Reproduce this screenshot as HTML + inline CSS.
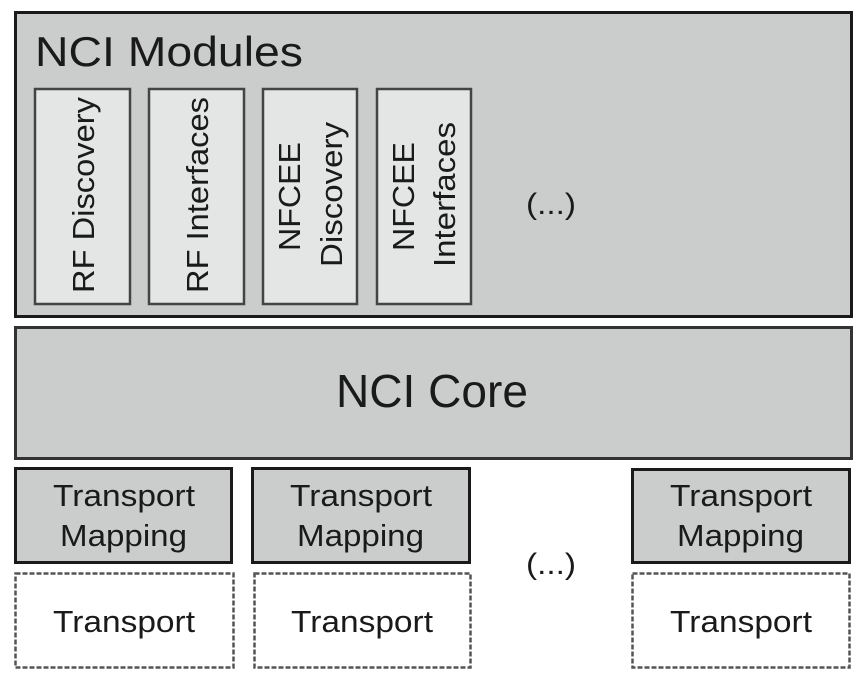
<!DOCTYPE html>
<html><head><style>
html,body{margin:0;padding:0;background:#fff;}
svg{display:block;}
text{font-family:"Liberation Sans",sans-serif;fill:#1a1a1a;}
</style></head><body>
<svg width="857" height="682" viewBox="0 0 857 682" xmlns="http://www.w3.org/2000/svg">
<rect x="15.5" y="12.5" width="836" height="304" fill="#cbcccc" stroke="#1a1a1a" stroke-width="3"/>
<text x="35" y="66" font-size="42" textLength="268" lengthAdjust="spacingAndGlyphs">NCI Modules</text>
<g fill="#e4e5e5" stroke="#444" stroke-width="2.5">
<rect x="35" y="89" width="95" height="215"/>
<rect x="149" y="89" width="95" height="215"/>
<rect x="263" y="89" width="94" height="215"/>
<rect x="377" y="89" width="94" height="215"/>
</g>
<g font-size="31">
<text transform="translate(94,293) rotate(-90)" textLength="196" lengthAdjust="spacingAndGlyphs">RF Discovery</text>
<text transform="translate(208,293) rotate(-90)" textLength="196" lengthAdjust="spacingAndGlyphs">RF Interfaces</text>
<text transform="translate(300,251) rotate(-90)" textLength="109" lengthAdjust="spacingAndGlyphs">NFCEE</text>
<text transform="translate(342,267) rotate(-90)" textLength="145" lengthAdjust="spacingAndGlyphs">Discovery</text>
<text transform="translate(414,251) rotate(-90)" textLength="109" lengthAdjust="spacingAndGlyphs">NFCEE</text>
<text transform="translate(455,267) rotate(-90)" textLength="145" lengthAdjust="spacingAndGlyphs">Interfaces</text>
</g>
<text x="526" y="214" font-size="30" textLength="50" lengthAdjust="spacingAndGlyphs">(...)</text>
<rect x="15.5" y="327.5" width="836" height="131" fill="#cbcccc" stroke="#333" stroke-width="3"/>
<text x="336" y="407" font-size="46" textLength="192" lengthAdjust="spacingAndGlyphs">NCI Core</text>
<g fill="#cbcccc" stroke="#1a1a1a" stroke-width="3">
<rect x="15.5" y="468.5" width="216" height="94"/>
<rect x="252.5" y="468.5" width="217" height="94"/>
<rect x="632.5" y="469.5" width="217" height="93"/>
</g>
<g fill="#fff" stroke="#555" stroke-width="2.5" stroke-dasharray="5,2">
<rect x="15.5" y="573.5" width="218" height="94"/>
<rect x="254.5" y="573.5" width="216" height="94"/>
<rect x="632.5" y="573.5" width="217" height="94"/>
</g>
<g font-size="31">
<text x="53" y="506" textLength="142" lengthAdjust="spacingAndGlyphs">Transport</text><text x="60" y="546" textLength="127" lengthAdjust="spacingAndGlyphs">Mapping</text>
<text x="290" y="506" textLength="142" lengthAdjust="spacingAndGlyphs">Transport</text><text x="297" y="546" textLength="127" lengthAdjust="spacingAndGlyphs">Mapping</text>
<text x="670" y="506" textLength="142" lengthAdjust="spacingAndGlyphs">Transport</text><text x="677" y="546" textLength="127" lengthAdjust="spacingAndGlyphs">Mapping</text>
<text x="53" y="632" textLength="142" lengthAdjust="spacingAndGlyphs">Transport</text>
<text x="291" y="632" textLength="142" lengthAdjust="spacingAndGlyphs">Transport</text>
<text x="670" y="632" textLength="142" lengthAdjust="spacingAndGlyphs">Transport</text>
</g>
<text x="526" y="574" font-size="30" textLength="50" lengthAdjust="spacingAndGlyphs">(...)</text>
</svg>
</body></html>
